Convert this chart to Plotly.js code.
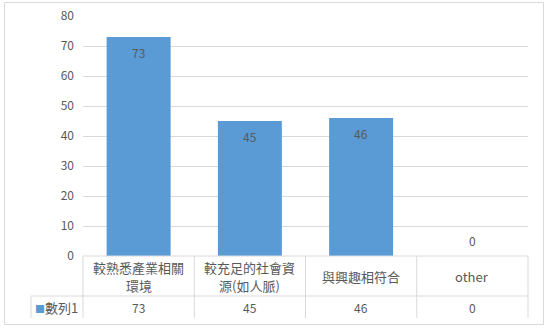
<!DOCTYPE html>
<html>
<head>
<meta charset="utf-8">
<script src="https://cdn.plot.ly/plotly-3.0.1.min.js"></script>
<style>html,body{margin:0;padding:0;background:#fff;}#chart{width:550px;height:331px;}</style>
</head>
<body>
<div id="chart"></div>
<script>
// Data
var categories = ['較熟悉產業相關<br>環境', '較充足的社會資<br>源(如人脈)', '與興趣相符合', 'other'];
var values = [73, 45, 46, 0];
var seriesName = '數列1';
var yTicks = [0, 10, 20, 30, 40, 50, 60, 70, 80];

var FONT = '"Noto Sans CJK TC", "Noto Sans", sans-serif';
var TXT = '#595959';
var GRID = '#D9D9D9';
var BAR = '#5B9BD5';

// Layout geometry (pixels)
var W = 550, H = 331;
var mL = 83, mR = 22, mT = 16, mB = 75;
var plotW = W - mL - mR, plotH = H - mT - mB;
function px2x(p) { return (p - mL) / plotW; }
function py2y(p) { return (H - mB - p) / plotH; }

var n = categories.length;
var xIdx = categories.map(function (_, i) { return i; });

var trace = {
  type: 'bar',
  x: xIdx,
  y: values,
  marker: { color: BAR },
  hoverinfo: 'none',
  showlegend: false
};

var annotations = [];
// data labels
values.forEach(function (v, i) {
  annotations.push({
    x: i, y: v, xref: 'x', yref: 'y',
    text: String(v), showarrow: false,
    yanchor: v > 0 ? 'top' : 'bottom',
    yshift: v > 0 ? -5 : 5,
    font: { family: FONT, size: 12, color: TXT }
  });
});
// table row 1: category labels (one annotation per line)
var rowCenter = 276, lineGap = 18;
categories.forEach(function (c, i) {
  var lines = c.split('<br>');
  lines.forEach(function (ln, k) {
    var cy = rowCenter + (k - (lines.length - 1) / 2) * lineGap;
    annotations.push({
      x: i, y: py2y(cy), xref: 'x', yref: 'paper',
      text: ln, showarrow: false, yanchor: 'middle',
      font: { family: FONT, size: 13, color: TXT }
    });
  });
});
// table row 2: values
values.forEach(function (v, i) {
  annotations.push({
    x: i, y: py2y(307), xref: 'x', yref: 'paper',
    text: String(v), showarrow: false, yanchor: 'middle',
    font: { family: FONT, size: 12, color: TXT }
  });
});
// legend key cell
annotations.push({
  x: px2x(33), y: py2y(307), xref: 'paper', yref: 'paper',
  xanchor: 'left', yanchor: 'middle', showarrow: false,
  text: '<span style="color:' + BAR + ';font-size:10px">■</span>' + seriesName,
  font: { family: FONT, size: 13, color: TXT }
});

var shapes = [];
var lineStyle = { color: GRID, width: 1 };
// vertical table borders
for (var i = 0; i <= n; i++) {
  shapes.push({ type: 'line', xref: 'x domain', yref: 'paper', x0: i / n, x1: i / n, y0: 0, y1: py2y(318), line: lineStyle, layer: 'above' });
}
// legend cell left border
shapes.push({ type: 'line', xref: 'paper', yref: 'paper', x0: px2x(31), x1: px2x(31), y0: py2y(296), y1: py2y(318), line: lineStyle });
// horizontal table borders
shapes.push({ type: 'line', xref: 'x domain', yref: 'paper', x0: 0, x1: 1, y0: 0, y1: 0, line: lineStyle, layer: 'above' });
shapes.push({ type: 'line', xref: 'paper', yref: 'paper', x0: px2x(31), x1: 1, y0: py2y(296), y1: py2y(296), line: lineStyle });
// outer chart border
shapes.push({ type: 'rect', xref: 'paper', yref: 'paper', x0: px2x(4.5), x1: px2x(543.5), y0: py2y(324.5), y1: py2y(2.5), line: { color: GRID, width: 1 }, fillcolor: 'rgba(0,0,0,0)' });

var layout = {
  width: W, height: H,
  margin: { l: mL, r: mR, t: mT, b: mB, pad: 0 },
  paper_bgcolor: '#fff', plot_bgcolor: '#fff',
  bargap: 0.425,
  font: { family: FONT, color: TXT },
  xaxis: {
    range: [-0.5, n - 0.5],
    showticklabels: false, showgrid: false, zeroline: false, showline: false, ticks: '',
    fixedrange: true
  },
  yaxis: {
    range: [0, 80],
    tickvals: yTicks,
    ticktext: yTicks.map(String),
    showgrid: true, gridcolor: GRID, gridwidth: 1,
    zeroline: false, showline: false, ticks: '',
    ticklabelstandoff: 8,
    tickfont: { family: FONT, size: 12, color: TXT },
    fixedrange: true
  },
  annotations: annotations,
  shapes: shapes
};

Plotly.newPlot('chart', [trace], layout, { displayModeBar: false, staticPlot: true });
</script>
</body>
</html>
